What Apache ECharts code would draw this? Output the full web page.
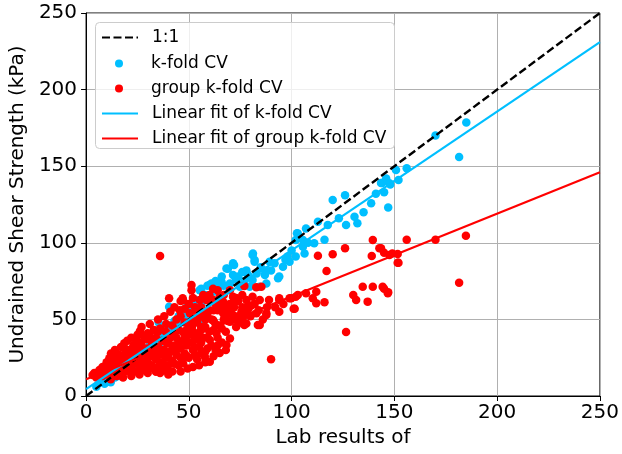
<!DOCTYPE html>
<html>
<head>
<meta charset="utf-8">
<script src="https://cdn.jsdelivr.net/npm/echarts@6/dist/echarts.min.js"></script>
<style>html,body{margin:0;padding:0;background:#fff;}#c{width:622px;height:454px;}</style>
</head>
<body>
<div id="c"></div>
<script>
// axis ticks
const xTicks = [0, 50, 100, 150, 200, 250];
const yTicks = [0, 50, 100, 150, 200, 250];

// series names
const names = ['1:1', 'k-fold CV', 'group k-fold CV', 'Linear fit of k-fold CV', 'Linear fit of group k-fold CV'];

// 1:1 reference line
const oneToOne = [[0, 0], [250, 250]];
// linear fits (end points)
const fitKfold = [[0, 4.5], [250, 231]];
const fitGroup = [[0, 11], [250, 146]];

// k-fold CV predictions [lab, predicted]
const kfold = [
[5,6],[7,9],[8,11],[9,8],[10,10],[11,12],[12,9],[13,14],[14,12],[15,15],[16,13],[17,18],[18,16],[19,20],[20,17],
[21,22],[22,19],[23,24],[24,21],[25,27],[26,23],[27,29],[28,25],[29,31],[30,27],[30,37.6],[31,33],[32,30],[33,36],
[34,32],[35,39],[35.3,47.9],[36,35],[37,41],[38,37],[39,44],[40,40],[40.4,58.3],[41,46],[42,43],[43,49],[44,45],
[45,52],[46,48],[47.2,56],[48,51],[49,58],[50,54],[51,60],[52,57],[53,63],[54,59],[55.3,69],[55.3,47.4],[56,70],
[57,62],[58,66],[59,72],[60,72.4],[61,73.5],[62,68],[63,75],[64,70],[65,73.5],[65.9,74.6],[66,78],[67,72],
[68.3,83.3],[69,83],[69,55],[70,73.5],[71.5,86.6],[71.5,79],[72,85.5],[73,76],[74,78],[74.8,71.3],[76,81],[77,75],
[78,82],[78.8,79],[79.6,71.3],[80,77],[81,92],[81,75.7],[81.2,93],[82,88.8],[82,87.7],[83,80],[84.5,71.3],[85,84],
[87,82],[87,79],[87.7,73.5],[89.3,87.7],[90,82],[91.7,86.6],[93.4,76.8],[94,78],[95.8,84.4],[97,89],[98,91],
[99,87.7],[100,95],[102,91],[102,101.8],[102.6,106.2],[103,106],[105.5,101.8],[105.5,97.5],[106.3,93],[107,109.4],
[108,100],[111,99.7],[112.8,113.8],[116,102],[117.6,111.6],[120,128],[123,116],[126,131],[126.5,111.6],[130.6,117],
[132,112.7],[135,120],[138.7,125.8],[141,132],[143.5,139],[144,139],[145,133],[146,142],[147,123],[147.6,138.8],
[148,138],[150.8,147.5],[152,141],[156,148.6],[170,170],[181.5,156],[185,178.6]
];

// group k-fold CV predictions [lab, predicted]
const groupKfold = [
[3.2,13.7],[4,15],[5,12],[6.5,17],[7,14],[8,19],[8,13],[9,16],[10,22],[10,14],[11.3,24.6],[11,18],[12.1,27.8],[12,15],
[13,20],[13,25],[14,17],[14,30],[15,22],[15,13],[16,27],[16,19],[17,32],[17,15],[18,24],[18.6,34.4],[18,20],[19,28],
[19,16],[20,36],[20,22],[20,17],[21,30],[21,25],[22,19],[22,38],[23,27],[23,33],[24,22],[24.3,36.6],[24,16],[25,29],
[25,40],[26.2,42.4],[26,24],[26,19],[27,33],[27,45],[28,28],[28,17],[29,37],[29,23],[30,41],[30,31],[30,15],[31,26],
[31,47],[32,35],[32,20],[33,43],[33,29],[34,15.9],[34,38],[34,24],[35,50],[35,32],[35,19],[36,91.4],[36,44],[36,27],
[37,36],[37,22],[38,52],[38,30],[38.8,17],[38.8,42],[39,47],[39,25],[40,35],[40.4,63.8],[40,20],[41,55],[41,29],
[42,40],[42,46],[42,23],[43,33],[43,58],[44,27],[44,50],[44,38],[45,20],[45,43],[45.6,56],[46,31],[46,62],[47,63.8],
[47,36],[47.2,21.3],[47.2,62.7],[48,27.8],[48,48],[48.9,43],[49,33],[49.4,18],[50,40],[50.5,54],[50,25],[51.3,69],
[51.3,72.5],[51.5,45],[52,19],[52,30],[52.9,32],[53,58],[53,37],[54,48],[54,24],[55.3,62.7],[55.3,51.8],[55.3,42],
[56,28],[56,35],[57,55],[57.8,25.6],[58,45],[58.6,62.7],[59,38],[59,31],[60.2,22.4],[60.2,36.6],[61,50],[61.8,70],
[61.8,62.7],[61.8,49.6],[62,43],[63.4,40.9],[63,30],[64,69],[64,56],[65,64.8],[65,46],[66,35],[66.7,54],[67,61],
[68.3,33.3],[68,42],[69,49],[70,69],[70,48.5],[70,37.6],[71.5,64.8],[71.5,52.9],[72,58],[73,45],[74,62],[75.6,55],
[77,46.3],[77,71.8],[78,62.7],[78,47.4],[79,57],[80.4,59],[81,64.8],[82.8,71],[82.9,54],[83.6,46.3],[84.5,62.7],
[84.5,46.3],[85.3,71.3],[87.7,52.9],[87.7,54],[89,62.7],[90,24],[92,58],[94,62.7],[94,55],[94,63.8],[96,60],
[99,63.8],[99.8,63.8],[101,57],[101.5,57],[102,64.8],[103,66],[107,67],[110.3,63.8],[112,68],[112,60.5],[112.8,91.6],
[116,61.2],[117,81.6],[120,92.5],[126,96.4],[126.5,41.8],[130,65.9],[131.4,62.7],[134.6,71.3],[137,61.6],[139,91.4],
[139.5,101.8],[139.5,71.3],[142.7,96.4],[143.5,96.4],[144.3,71.3],[145,93.5],[145,70],[146.8,67],[147,67.7],
[147.6,92],[149,93],[151.6,92.7],[151.6,87],[152,87],[156,102],[170,102],[181.5,74],[184.8,104.6],
[14,23],[16,22],[17,26],[19,24],[20,30],[21,18],[22,28],[23,21],[24,31],[25,24],[26,35],[27,21],[28,39],[29,28],
[30,22],[31,39],[32,26],[33,18],[34,30],[35,42],[36,21],[37,30],[38,18],[39,35],[40,27],[41,38],[42,31],[43,21],
[44,43],[45,35],[46,25],[47,42],[48,36],[49,26],[50,48],[51,35],[52,42],[53,27],[54,38],[55,32],[56,45],[57,38],
[58,29],[59,53],[60,42],[61,33],[62,56],[63,47],[64,38],[65,58],[66,44],[67,50],[68,57],[70,60],[72,50],[73,64],
[75,48],[76,66],[76,58],[78,53],
[46,52],[48,57],[50,60],[52,50],[54,55],[56,58],[58,50],[60,56],[62,49],[64,62],[66,60],[68,52],[70,55],[72,62],
[74,52],[76,50],[78,58],[80,52],[82,60],[84,56],[86,50],[88,58],[57,66],[60,66],[63,60],[67,66],[52,64],[48,40],
[44,32],[40,14],[36,15],[42,16],[46,16],[55,20],[58,22],[62,26],[65,28],[68,30],[64,33],[30,18],[26,14],[22,13],
[18,12],[12,11]
];

const BLUE = '#00BFFF', RED = '#FF0000';
const FONT = 'DejaVu Sans';
const chart = echarts.init(document.getElementById('c'), null, {renderer: 'canvas'});

const rowsTop = [29, 55, 80, 105, 130];
function legendRow(i, isDot) {
  const base = {
    data: [names[i]],
    top: rowsTop[i], padding: 0,
    selectedMode: false,
    textStyle: {fontFamily: FONT, fontSize: 17, color: '#000', padding: [0, 0, 0, 9]}
  };
  if (isDot) {
    return Object.assign(base, {left: 115, itemWidth: 36, itemHeight: 8, icon: 'circle', symbolKeepAspect: true});
  }
  return Object.assign(base, {left: 101, itemWidth: 36, itemHeight: 14,
    itemStyle: {color: 'rgba(0,0,0,0)', opacity: 0, borderWidth: 0}});
}

chart.setOption({
  animation: false,
  backgroundColor: '#fff',
  grid: {left: 86, right: 21, top: 13, bottom: 58, show: true, borderColor: '#000', borderWidth: 1, backgroundColor: 'transparent'},
  xAxis: {
    type: 'value', min: xTicks[0], max: xTicks[xTicks.length - 1], interval: 50,
    name: 'Lab results of', nameLocation: 'middle', nameGap: 30,
    nameTextStyle: {fontFamily: FONT, fontSize: 20, color: '#000'},
    axisLine: {show: true, onZero: false, lineStyle: {color: '#000', width: 1}},
    axisTick: {show: true, length: 5, lineStyle: {color: '#000'}},
    axisLabel: {fontFamily: FONT, fontSize: 20, color: '#000', margin: 7},
    splitLine: {show: true, lineStyle: {color: '#b0b0b0', width: 1}}
  },
  yAxis: {
    type: 'value', min: yTicks[0], max: yTicks[yTicks.length - 1], interval: 50,
    name: 'Undrained Shear Strength (kPa)', nameLocation: 'middle', nameGap: 56,
    nameTextStyle: {fontFamily: FONT, fontSize: 20, color: '#000'},
    axisLine: {show: true, onZero: false, lineStyle: {color: '#000', width: 1}},
    axisTick: {show: true, length: 5, lineStyle: {color: '#000'}},
    axisLabel: {fontFamily: FONT, fontSize: 20, color: '#000', margin: 9},
    splitLine: {show: true, lineStyle: {color: '#b0b0b0', width: 1}}
  },
  legend: [legendRow(0, false), legendRow(1, true), legendRow(2, true), legendRow(3, false), legendRow(4, false)],
  graphic: [{
    type: 'rect', z: 3, left: 95, top: 22,
    shape: {width: 299, height: 126, r: 4},
    style: {fill: 'rgba(255,255,255,0.8)', stroke: '#cccccc', lineWidth: 1}
  }],
  series: [
    {name: names[1], type: 'scatter', data: kfold, symbol: 'circle', symbolSize: 8.5, itemStyle: {color: BLUE, opacity: 1}, z: 1},
    {name: names[2], type: 'scatter', data: groupKfold, symbol: 'circle', symbolSize: 8.5, itemStyle: {color: RED, opacity: 1}, z: 1},
    {name: names[0], type: 'line', data: oneToOne, symbol: 'none', showSymbol: false, z: 2,
     lineStyle: {color: '#000', width: 2.4, type: [8, 3.5]}, itemStyle: {color: '#000'}},
    {name: names[3], type: 'line', data: fitKfold, symbol: 'none', showSymbol: false, z: 2,
     lineStyle: {color: BLUE, width: 2.2}, itemStyle: {color: BLUE}},
    {name: names[4], type: 'line', data: fitGroup, symbol: 'none', showSymbol: false, z: 2,
     lineStyle: {color: RED, width: 2.2}, itemStyle: {color: RED}}
  ]
});
</script>
</body>
</html>
